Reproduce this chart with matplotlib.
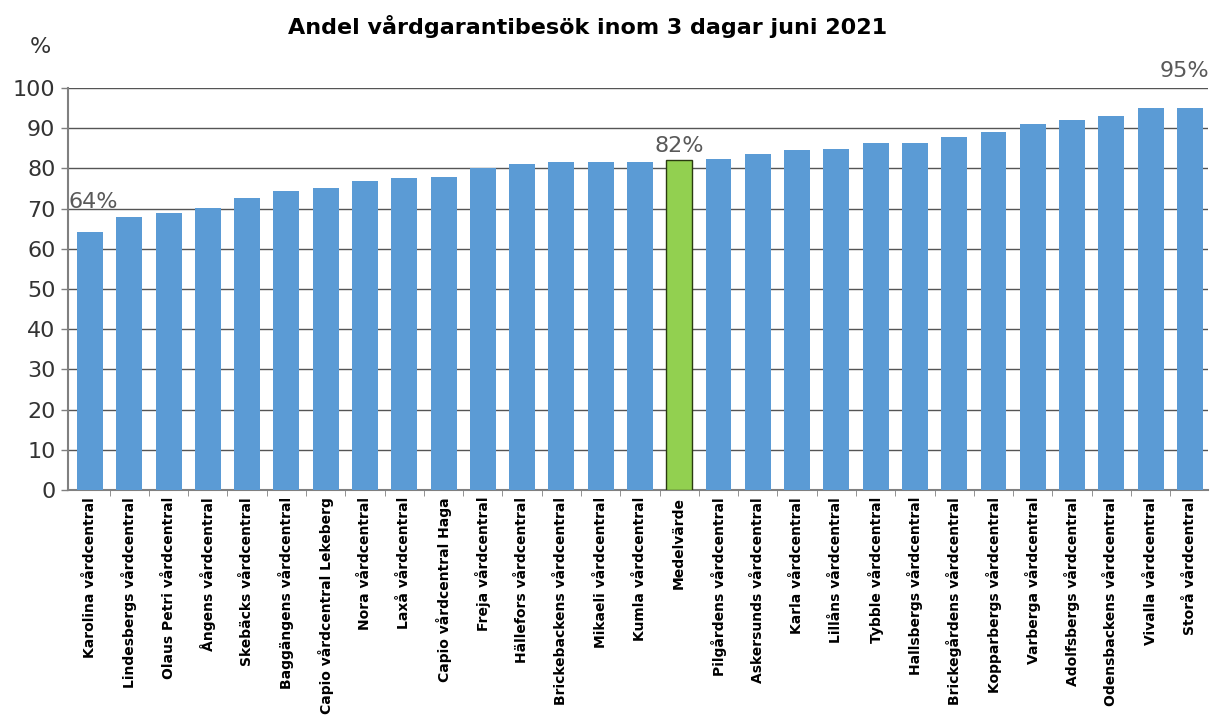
import matplotlib.pyplot as plt

plt.rcParams['font.family'] = ['DejaVu Sans']

names = [
    'Karolina vårdcentral', 'Lindesbergs vårdcentral', 'Olaus Petri vårdcentral',
    'Ångens vårdcentral', 'Skebäcks vårdcentral', 'Baggängens vårdcentral',
    'Capio vårdcentral Lekeberg', 'Nora vårdcentral', 'Laxå vårdcentral',
    'Capio vårdcentral Haga', 'Freja vårdcentral', 'Hällefors vårdcentral',
    'Brickebackens vårdcentral', 'Mikaeli vårdcentral', 'Kumla vårdcentral',
    'Medelvärde', 'Pilgårdens vårdcentral', 'Askersunds vårdcentral',
    'Karla vårdcentral', 'Lillåns vårdcentral', 'Tybble vårdcentral',
    'Hallsbergs vårdcentral', 'Brickegårdens vårdcentral', 'Kopparbergs vårdcentral',
    'Varberga vårdcentral', 'Adolfsbergs vårdcentral', 'Odensbackens vårdcentral',
    'Vivalla vårdcentral', 'Storå vårdcentral',
]
values = [
    64.2, 68.0, 68.8, 70.1, 72.6, 74.5, 75.1, 76.9, 77.7, 77.9,
    80.1, 81.2, 81.5, 81.5, 81.7, 82.0, 82.4, 83.5, 84.6, 84.9,
    86.2, 86.4, 87.9, 89.1, 91.0, 92.0, 93.0, 95.0, 95.0,
]
labels = {0: '64%', 15: '82%', 28: '95%'}
mean_name = 'Medelvärde'

fig = plt.figure(figsize=(12.18, 7.17), dpi=100)
ax = fig.add_axes([68 / 1218, 1 - 490 / 717, 1140 / 1218, 402 / 717])

x = range(len(names))
colors = ['#92D050' if n == mean_name else '#5B9BD5' for n in names]
edges = ['#2a3a10' if n == mean_name else 'none' for n in names]
ax.bar(x, values, width=0.66, color=colors, edgecolor=edges, linewidth=1.0, zorder=3)

ax.set_xlim(-0.56, len(names) - 0.54)
ax.set_ylim(0, 100)
ax.set_yticks(range(0, 101, 10))
ax.yaxis.grid(True, color='#555555', linewidth=1.0, zorder=0)
ax.tick_params(axis='y', labelsize=16, colors='#808080', length=5, width=1, pad=4)
for t in ax.get_yticklabels():
    t.set_color('#333333')
ax.set_xticks([i + 0.5 for i in range(len(names) - 1)], minor=True)
ax.set_xticks(list(x))
ax.set_xticklabels(names, rotation=90, fontsize=10, fontweight='bold', va='top')
ax.tick_params(axis='x', which='major', length=0, pad=5)
ax.tick_params(axis='x', which='minor', length=4, color='#808080')

for s in ['top', 'right']:
    ax.spines[s].set_visible(False)
ax.spines['left'].set_color('#808080')
ax.spines['left'].set_linewidth(1.5)
ax.spines['bottom'].set_color('#808080')
ax.spines['bottom'].set_linewidth(1.5)
ax.spines['left'].set_zorder(4)

for i, txt in labels.items():
    if i == len(names) - 1:
        ax.text(i + 0.48, 101.8, txt, ha='right', va='bottom', fontsize=16, color='#595959')
    elif i == 0:
        ax.text(i - 0.56, values[i] + 5.0, txt, ha='left', va='bottom', fontsize=16, color='#595959')
    else:
        ax.text(i, values[i] + 1.0, txt, ha='center', va='bottom', fontsize=16, color='#595959')

fig.text(588 / 1218, 1 - 26 / 717, 'Andel vårdgarantibesök inom 3 dagar juni 2021',
         ha='center', va='center', fontsize=16, fontweight='bold')
fig.text(40 / 1218, 1 - 47 / 717, '%', ha='center', va='center', fontsize=16, color='#333333')

fig.savefig('out.png', dpi=100)
